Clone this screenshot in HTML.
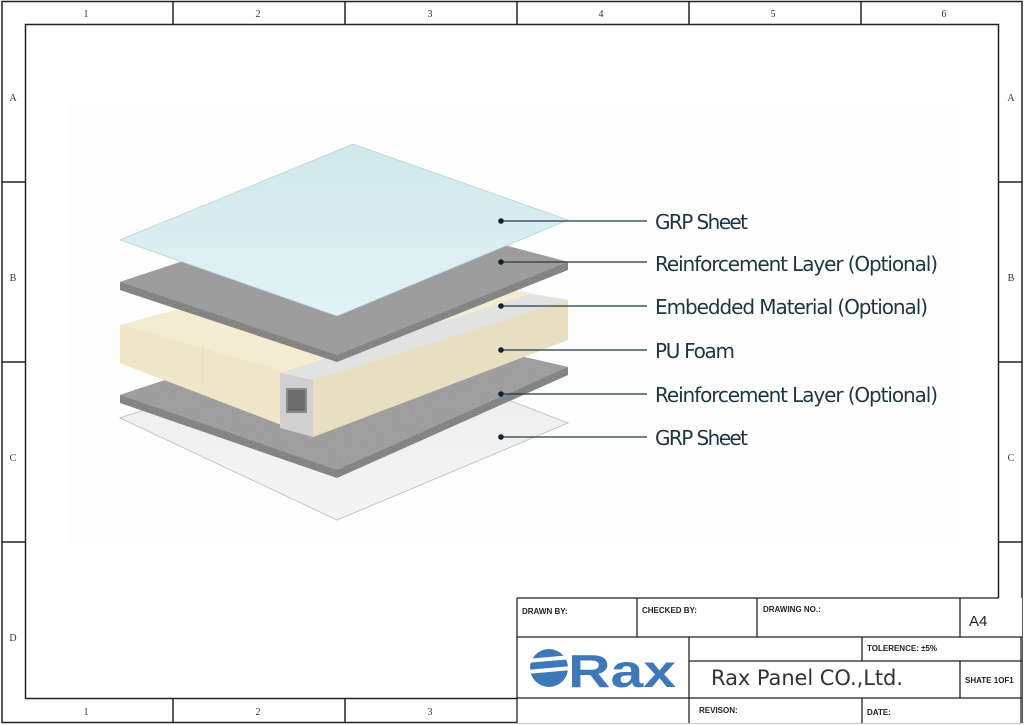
<!DOCTYPE html>
<html><head><meta charset="utf-8"><style>
html,body{margin:0;padding:0;background:#fff;}
svg{display:block;}
text{font-family:"Liberation Sans",sans-serif;}
</style></head><body>
<svg width="1024" height="725" viewBox="0 0 1024 725" xmlns="http://www.w3.org/2000/svg">
<defs>
<filter id="noise" filterUnits="userSpaceOnUse" x="100" y="190" width="490" height="300">
<feTurbulence type="fractalNoise" baseFrequency="0.9" numOctaves="2" seed="3" result="t"/>
<feColorMatrix in="t" type="matrix" values="0 0 0 0 0.3  0 0 0 0 0.3  0 0 0 0 0.3  0 0 0 2.5 -1.0" result="n"/>
<feComposite in="n" in2="SourceGraphic" operator="in" result="m"/>
<feMerge><feMergeNode in="SourceGraphic"/><feMergeNode in="m"/></feMerge>
</filter>
<linearGradient id="blue" x1="0" y1="0" x2="0" y2="1"><stop offset="0" stop-color="#cfe8ec"/><stop offset="1" stop-color="#e3f2f3"/></linearGradient>
<linearGradient id="wht" x1="0" y1="0" x2="0" y2="1"><stop offset="0" stop-color="#ececec"/><stop offset="1" stop-color="#f4f4f4"/></linearGradient>
</defs>
<rect x="0" y="0" width="1024" height="725" fill="#fff"/>
<g stroke="#222" fill="none" stroke-width="1.5">
<rect x="2" y="1.5" width="1020" height="721"/>
<rect x="25.5" y="24.5" width="973" height="674"/>
<line x1="173" y1="2" x2="173" y2="24"/><line x1="345" y1="2" x2="345" y2="24"/><line x1="517" y1="2" x2="517" y2="24"/><line x1="689" y1="2" x2="689" y2="24"/><line x1="861" y1="2" x2="861" y2="24"/>
<line x1="173" y1="699" x2="173" y2="722"/><line x1="345" y1="699" x2="345" y2="722"/>
<line x1="2" y1="182" x2="25" y2="182"/><line x1="2" y1="362" x2="25" y2="362"/><line x1="2" y1="542" x2="25" y2="542"/>
<line x1="999" y1="182" x2="1022" y2="182"/><line x1="999" y1="362" x2="1022" y2="362"/><line x1="999" y1="542" x2="1022" y2="542"/>
</g>
<g font-size="10" fill="#333" text-anchor="middle" style="font-family:'Liberation Serif',serif">
<text x="86" y="17" style="font-family:'Liberation Serif',serif">1</text><text x="258" y="17" style="font-family:'Liberation Serif',serif">2</text><text x="430" y="17" style="font-family:'Liberation Serif',serif">3</text><text x="601" y="17" style="font-family:'Liberation Serif',serif">4</text><text x="773" y="17" style="font-family:'Liberation Serif',serif">5</text><text x="944" y="17" style="font-family:'Liberation Serif',serif">6</text>
<text x="86" y="715" style="font-family:'Liberation Serif',serif">1</text><text x="258" y="715" style="font-family:'Liberation Serif',serif">2</text><text x="430" y="715" style="font-family:'Liberation Serif',serif">3</text>
<text x="13" y="101" style="font-family:'Liberation Serif',serif">A</text><text x="13" y="281" style="font-family:'Liberation Serif',serif">B</text><text x="13" y="461" style="font-family:'Liberation Serif',serif">C</text><text x="13" y="641" style="font-family:'Liberation Serif',serif">D</text>
<text x="1011" y="101" style="font-family:'Liberation Serif',serif">A</text><text x="1011" y="281" style="font-family:'Liberation Serif',serif">B</text><text x="1011" y="461" style="font-family:'Liberation Serif',serif">C</text>
</g>
<rect x="70" y="105" width="890" height="440" fill="#fdfdfd"/>
<polygon points="120,418 353,340 568,423 337,520" fill="url(#wht)" stroke="#bbb" stroke-width="0.8"/>
<polygon points="120,395 353,318 568,367 568,375 337,478 120,403" fill="#7e7e7e" filter="url(#noise)"/>
<polygon points="120,395 353,318 568,367 337,470" fill="#a2a2a2" filter="url(#noise)"/>
<polygon points="120,325 353,262 568,300 568,340 313,437 120,363" fill="#e9e0c4"/>
<polygon points="120,325 353,262 568,300 313,380" fill="#f3ecd2"/>
<polygon points="313,380 568,300 568,340 313,437" fill="#e8dfc2"/>
<polygon points="120,325 313,380 313,437 120,363" fill="#efe6c9"/>
<polygon points="280,373 530,294 568,300 313,380" fill="#e2e2e2"/>
<polygon points="280,373 313,380 313,437 280,428" fill="#d0d0d0"/>
<rect x="286" y="388" width="21" height="25" fill="#8a8a8a"/>
<polygon points="288,390 305,390 305,411 288,411" fill="#6c6c6c"/>
<line x1="203" y1="347" x2="203" y2="384" stroke="#e3d9b9"/>
<polygon points="120,282 353,205 568,262 568,270 337,362 120,290" fill="#7e7e7e" filter="url(#noise)"/>
<polygon points="120,282 353,205 568,262 337,355" fill="#a0a0a0" filter="url(#noise)"/>
<polygon points="120,240 353,144 568,220 337,316" fill="url(#blue)" stroke="#b5d3d8" stroke-width="0.8"/>
<g stroke="#1e3a4a" stroke-width="1.3">
<line x1="501" y1="221" x2="647" y2="221"/><line x1="501" y1="262" x2="647" y2="262"/><line x1="501" y1="306" x2="647" y2="306"/><line x1="501" y1="350" x2="647" y2="350"/><line x1="501" y1="394" x2="647" y2="394"/><line x1="501" y1="437" x2="647" y2="437"/>
</g>
<g fill="#10222e"><circle cx="501" cy="221" r="2.8"/><circle cx="501" cy="262" r="2.8"/><circle cx="501" cy="306" r="2.8"/><circle cx="501" cy="350" r="2.8"/><circle cx="501" cy="394" r="2.8"/><circle cx="501" cy="437" r="2.8"/></g>
<g font-size="20" fill="#1e3545" style="font-family:'DejaVu Sans',sans-serif">
<text x="655" y="229" textLength="93" style="font-family:'DejaVu Sans',sans-serif">GRP Sheet</text>
<text x="655" y="271" textLength="283" style="font-family:'DejaVu Sans',sans-serif">Reinforcement Layer (Optional)</text>
<text x="655" y="314" textLength="273" style="font-family:'DejaVu Sans',sans-serif">Embedded Material (Optional)</text>
<text x="655" y="358" textLength="80" style="font-family:'DejaVu Sans',sans-serif">PU Foam</text>
<text x="655" y="402" textLength="283" style="font-family:'DejaVu Sans',sans-serif">Reinforcement Layer (Optional)</text>
<text x="655" y="445" textLength="93" style="font-family:'DejaVu Sans',sans-serif">GRP Sheet</text>
</g>
<rect x="517" y="598" width="505" height="125" fill="#fff"/>
<g stroke="#222" stroke-width="1.3" fill="none">
<line x1="517" y1="598" x2="999" y2="598"/>
<line x1="517" y1="598" x2="517" y2="723"/>
<line x1="517" y1="637" x2="1022" y2="637"/>
<line x1="689" y1="661" x2="1022" y2="661"/>
<line x1="517" y1="698" x2="1022" y2="698"/>
<line x1="637" y1="598" x2="637" y2="637"/><line x1="757" y1="598" x2="757" y2="637"/><line x1="960" y1="598" x2="960" y2="637"/>
<line x1="689" y1="637" x2="689" y2="723"/>
<line x1="862" y1="637" x2="862" y2="661"/>
<line x1="960" y1="661" x2="960" y2="698"/>
<line x1="862" y1="698" x2="862" y2="723"/>
<line x1="1021" y1="637" x2="1021" y2="723"/>
</g>
<g font-size="8" font-weight="bold" fill="#222">
<text x="522" y="614">DRAWN BY:</text><text x="642" y="613">CHECKED BY:</text><text x="763" y="612">DRAWING NO.:</text>
<text x="867" y="651">TOLERENCE:  ±5%</text>
<text x="965" y="683">SHATE 1OF1</text>
<text x="699" y="713">REVISON:</text><text x="867" y="715">DATE:</text>
</g>
<text x="969" y="626" font-size="15" fill="#222">A4</text>
<text x="711" y="685" font-size="21" fill="#333" textLength="192" style="font-family:'DejaVu Sans',sans-serif">Rax Panel CO.,Ltd.</text>
<circle cx="549" cy="668" r="19" fill="#3d78b8"/>
<g stroke="#fff" stroke-width="4"><line x1="526" y1="661" x2="572" y2="657"/><line x1="526" y1="672" x2="572" y2="668"/></g>
<text x="568" y="687" font-size="46" font-weight="bold" fill="#3d78b8" textLength="108" lengthAdjust="spacingAndGlyphs">Rax</text>
</svg>
</body></html>
